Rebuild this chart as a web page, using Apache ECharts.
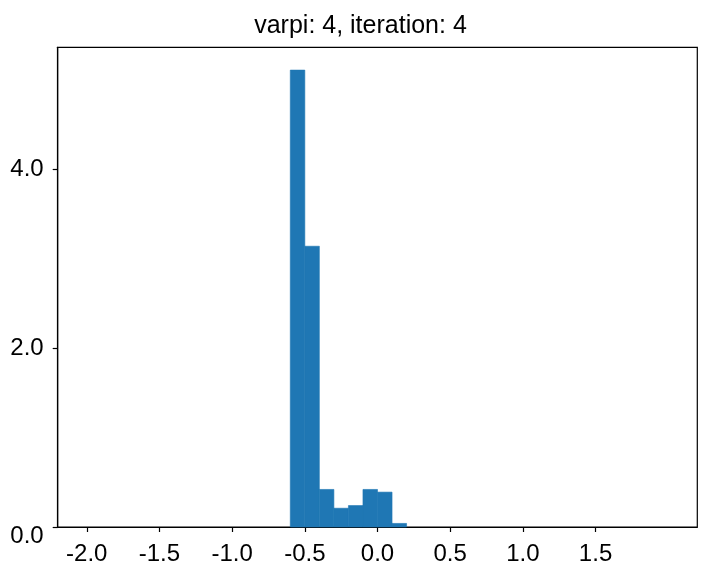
<!DOCTYPE html>
<html>
<head>
<meta charset="utf-8">
<script src="https://cdn.jsdelivr.net/npm/echarts@6/dist/echarts.min.js"></script>
<style>
html,body{margin:0;padding:0;background:#fff;}
#chart{width:721px;height:576px;}
</style>
</head>
<body>
<div id="chart"></div>
<script>
const titleText = "varpi: 4, iteration: 4";
const binEdges = [-0.6, -0.5, -0.4, -0.3, -0.2, -0.1, 0.0, 0.1, 0.2];
const density = [5.11, 3.14, 0.42, 0.21, 0.24, 0.42, 0.39, 0.04];
const xTicks = [-2.0, -1.5, -1.0, -0.5, 0.0, 0.5, 1.0, 1.5];
const yTicks = [0.0, 2.0, 4.0];
const xRange = [-2.2, 2.2];
const yRange = [0, 5.365];

const bins = density.map((d, i) => [binEdges[i], binEdges[i + 1], d]);

const FONT = '"Liberation Sans", Arial, Helvetica, sans-serif';
const chart = echarts.init(document.getElementById('chart'), null, {renderer: 'canvas'});
chart.setOption({
  backgroundColor: '#ffffff',
  animation: false,
  title: {
    text: titleText,
    left: 'center',
    top: 9,
    textStyle: {fontFamily: FONT, fontSize: 25, fontWeight: 'normal', color: '#000'}
  },
  grid: {
    left: 57.7, right: 23.7, top: 47.3, bottom: 49,
    show: true, borderColor: '#000', borderWidth: 1.2, backgroundColor: 'transparent'
  },
  xAxis: {
    type: 'value',
    min: xRange[0], max: xRange[1],
    splitLine: {show: false},
    axisLine: {show: true, onZero: false, lineStyle: {color: '#000', width: 1.2}},
    axisTick: {show: true, length: 5, customValues: xTicks, lineStyle: {color: '#000', width: 1.2}},
    axisLabel: {
      customValues: xTicks, margin: 15,
      fontFamily: FONT, fontSize: 24, color: '#000',
      formatter: v => Number(v).toFixed(1)
    }
  },
  yAxis: {
    type: 'value',
    min: yRange[0], max: yRange[1],
    splitLine: {show: false},
    axisLine: {show: true, onZero: false, lineStyle: {color: '#000', width: 1.2}},
    axisTick: {show: true, length: 5, customValues: yTicks, lineStyle: {color: '#000', width: 1.2}},
    axisLabel: {
      customValues: yTicks, margin: 14,
      fontFamily: FONT, fontSize: 24, color: '#000',
      formatter: v => (v === 0 ? '{z|' + Number(v).toFixed(1) + '}' : Number(v).toFixed(1)),
      rich: {
        z: {fontFamily: FONT, fontSize: 24, color: '#000', padding: [18, 0, 0, 0]}
      }
    }
  },
  series: [{
    type: 'custom',
    data: bins,
    encode: {x: [0, 1], y: 2},
    renderItem: function (params, api) {
      const p0 = api.coord([api.value(0), api.value(2)]);
      const p1 = api.coord([api.value(1), 0]);
      return {
        type: 'rect',
        shape: {x: p0[0], y: p0[1], width: p1[0] - p0[0], height: p1[1] - p0[1]},
        style: {fill: '#1f77b4', stroke: '#1f77b4', lineWidth: 0.6}
      };
    }
  }]
});
</script>
</body>
</html>
